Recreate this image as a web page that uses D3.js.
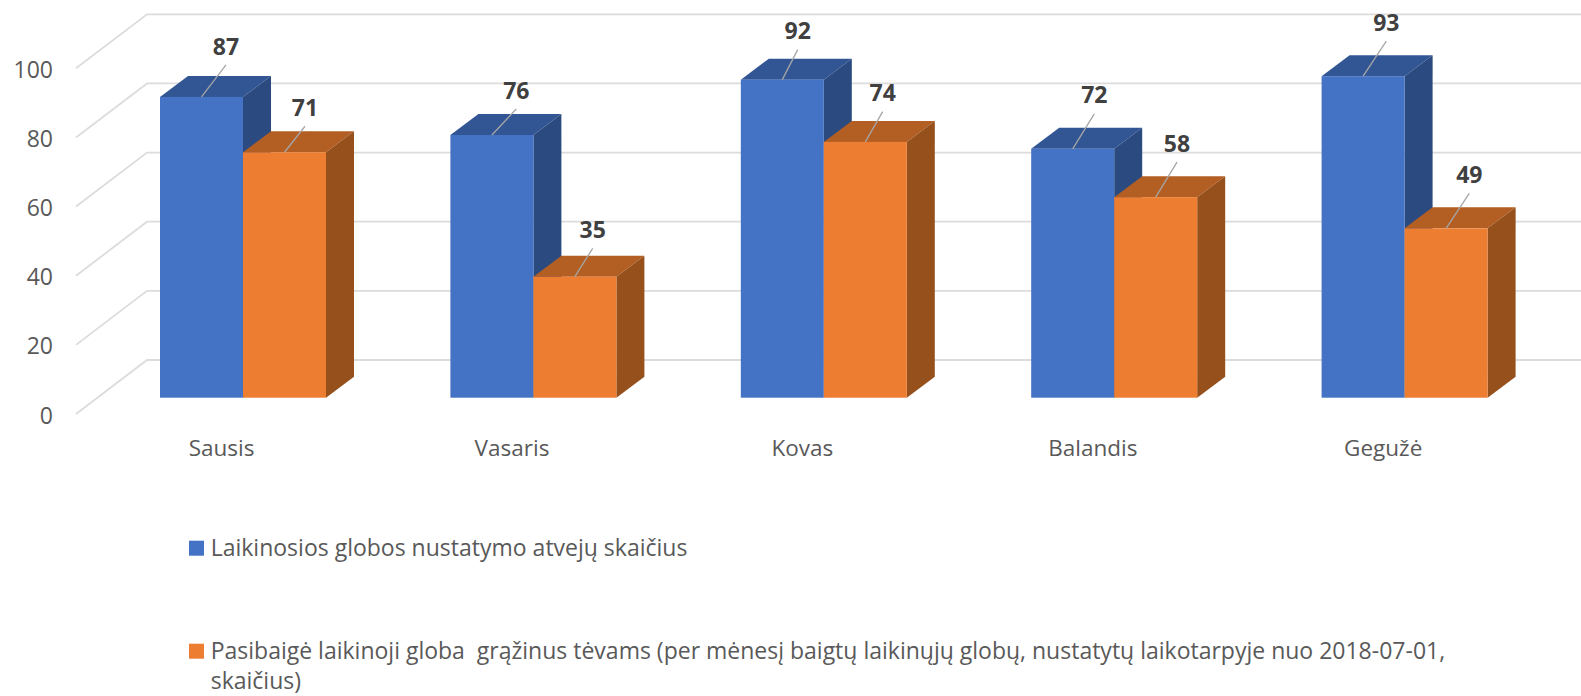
<!DOCTYPE html>
<html>
<head>
<meta charset="utf-8">
<script src="https://cdnjs.cloudflare.com/ajax/libs/d3/7.8.5/d3.min.js"></script>
<style>
    html, body { margin: 0; padding: 0; background: #fff; overflow: hidden; }
    text { font-family: "Open Sans", "Noto Sans", sans-serif; white-space: pre; }
</style>
</head>
<body>
<div id="chart"></div>
<script>
const months = ["Sausis", "Vasaris", "Kovas", "Balandis", "Gegužė"];
const opened = [87, 76, 92, 72, 93];
const closed = [71, 35, 74, 58, 49];
const yTicks = [0, 20, 40, 60, 80, 100];
const seriesNames = ["opened", "closed"];
const legendOpened = ["Laikinosios globos nustatymo atvejų skaičius"];
const legendClosed = [
    "Pasibaigė laikinoji globa  grąžinus tėvams (per mėnesį baigtų laikinųjų globų, nustatytų laikotarpyje nuo 2018-07-01,",
    "skaičius)"
];

const width = 1581;
const height = 696;

// 3D look: how far the bar depth and the floor are pushed
const barDx = 28, barDy = 21;
const wallX = 147, wallDy = 37.7;
const floorX = 76, floorDy = 16.3;

// The value labels were moved by hand in the original, so each leader has its own end
const leaders = {
    opened: [[24.5, -32], [24.4, -26], [15.4, -30], [21.6, -35], [23.2, -35]],
    closed: [[20.5, -26], [17.8, -28.4], [17.4, -30.3], [21.3, -35], [23.2, -35]]
};

const colors = {
    opened: { front: "#4472C4", top: "#325594", side: "#2A4A80" },
    closed: { front: "#ED7D31", top: "#B35E22", side: "#96501C" }
};

const svg = d3.select("#chart").append("svg")
    .attr("width", width)
    .attr("height", height)
    .style("display", "block");

const x = d3.scaleBand().domain(months).range([160, 160 + 290.4 * 5]);
const xInner = d3.scaleBand().domain(seriesNames).range([0, 166]);
const y = d3.scaleLinear().domain([0, 100]).range([397.7, 52]);

// Grid: back wall lines plus the diagonal on the side wall
const grid = svg.append("g")
    .attr("fill", "none")
    .attr("stroke", "#DCDCDC")
    .attr("stroke-width", 1.8);

grid.selectAll("path")
    .data(yTicks)
    .join("path")
    .attr("d", d => `M${floorX},${y(d) + floorDy}L${wallX},${y(d) - wallDy}L${width},${y(d) - wallDy}`);

// Axes
const yAxis = svg.append("g")
    .attr("transform", "translate(53,18)")
    .call(d3.axisLeft(y).tickValues(yTicks).tickSize(0).tickPadding(0));
yAxis.select(".domain").remove();
yAxis.selectAll("text")
    .attr("font-size", 23)
    .attr("fill", "#595959");

const xAxis = svg.append("g")
    .attr("transform", "translate(-83.6,439.7)")
    .call(d3.axisBottom(x).tickSize(0).tickPadding(0));
xAxis.select(".domain").remove();
xAxis.selectAll("text")
    .attr("font-size", 22.5)
    .attr("fill", "#595959");

// Bars
function drawBars(name, values) {
    const w = xInner.bandwidth();
    const c = colors[name];
    const g = svg.append("g").selectAll("g")
        .data(months.map((m, i) => ({ month: m, value: values[i], leader: leaders[name][i] })))
        .join("g")
        .attr("transform", d => `translate(${x(d.month) + xInner(name)},0)`);

    g.append("path")
        .attr("fill", c.top)
        .attr("d", d => `M0,${y(d.value)}l${barDx},${-barDy}h${w}l${-barDx},${barDy}z`);
    g.append("path")
        .attr("fill", c.side)
        .attr("d", d => `M${w},${y(d.value)}l${barDx},${-barDy}V${y(0) - barDy}l${-barDx},${barDy}z`);
    g.append("rect")
        .attr("width", w)
        .attr("y", d => y(d.value))
        .attr("height", d => y(0) - y(d.value))
        .attr("fill", c.front);

    // Leader line and value label
    g.append("line")
        .attr("x1", w / 2)
        .attr("y1", d => y(d.value))
        .attr("x2", d => w / 2 + d.leader[0])
        .attr("y2", d => y(d.value) + d.leader[1])
        .attr("stroke", "#A6A6A6")
        .attr("stroke-width", 1.3);
    g.append("text")
        .attr("x", d => w / 2 + d.leader[0])
        .attr("y", d => y(d.value) + d.leader[1] - 10.3)
        .attr("text-anchor", "middle")
        .attr("font-size", 23)
        .attr("font-weight", "bold")
        .attr("fill", "#404040")
        .text(d => d.value);
}

drawBars("opened", opened);
drawBars("closed", closed);

// Legend
function drawLegend(lines, color, baseline) {
    svg.append("rect")
        .attr("x", 189)
        .attr("y", baseline - 15)
        .attr("width", 15)
        .attr("height", 15)
        .attr("fill", color);
    svg.append("g").selectAll("text")
        .data(lines)
        .join("text")
        .attr("x", 210.7)
        .attr("y", (d, i) => baseline + i * 30.6)
        .attr("font-size", 23)
        .attr("fill", "#595959")
        .text(d => d);
}

drawLegend(legendOpened, colors.opened.front, 555.7);
drawLegend(legendClosed, colors.closed.front, 658.7);
</script>
</body>
</html>
